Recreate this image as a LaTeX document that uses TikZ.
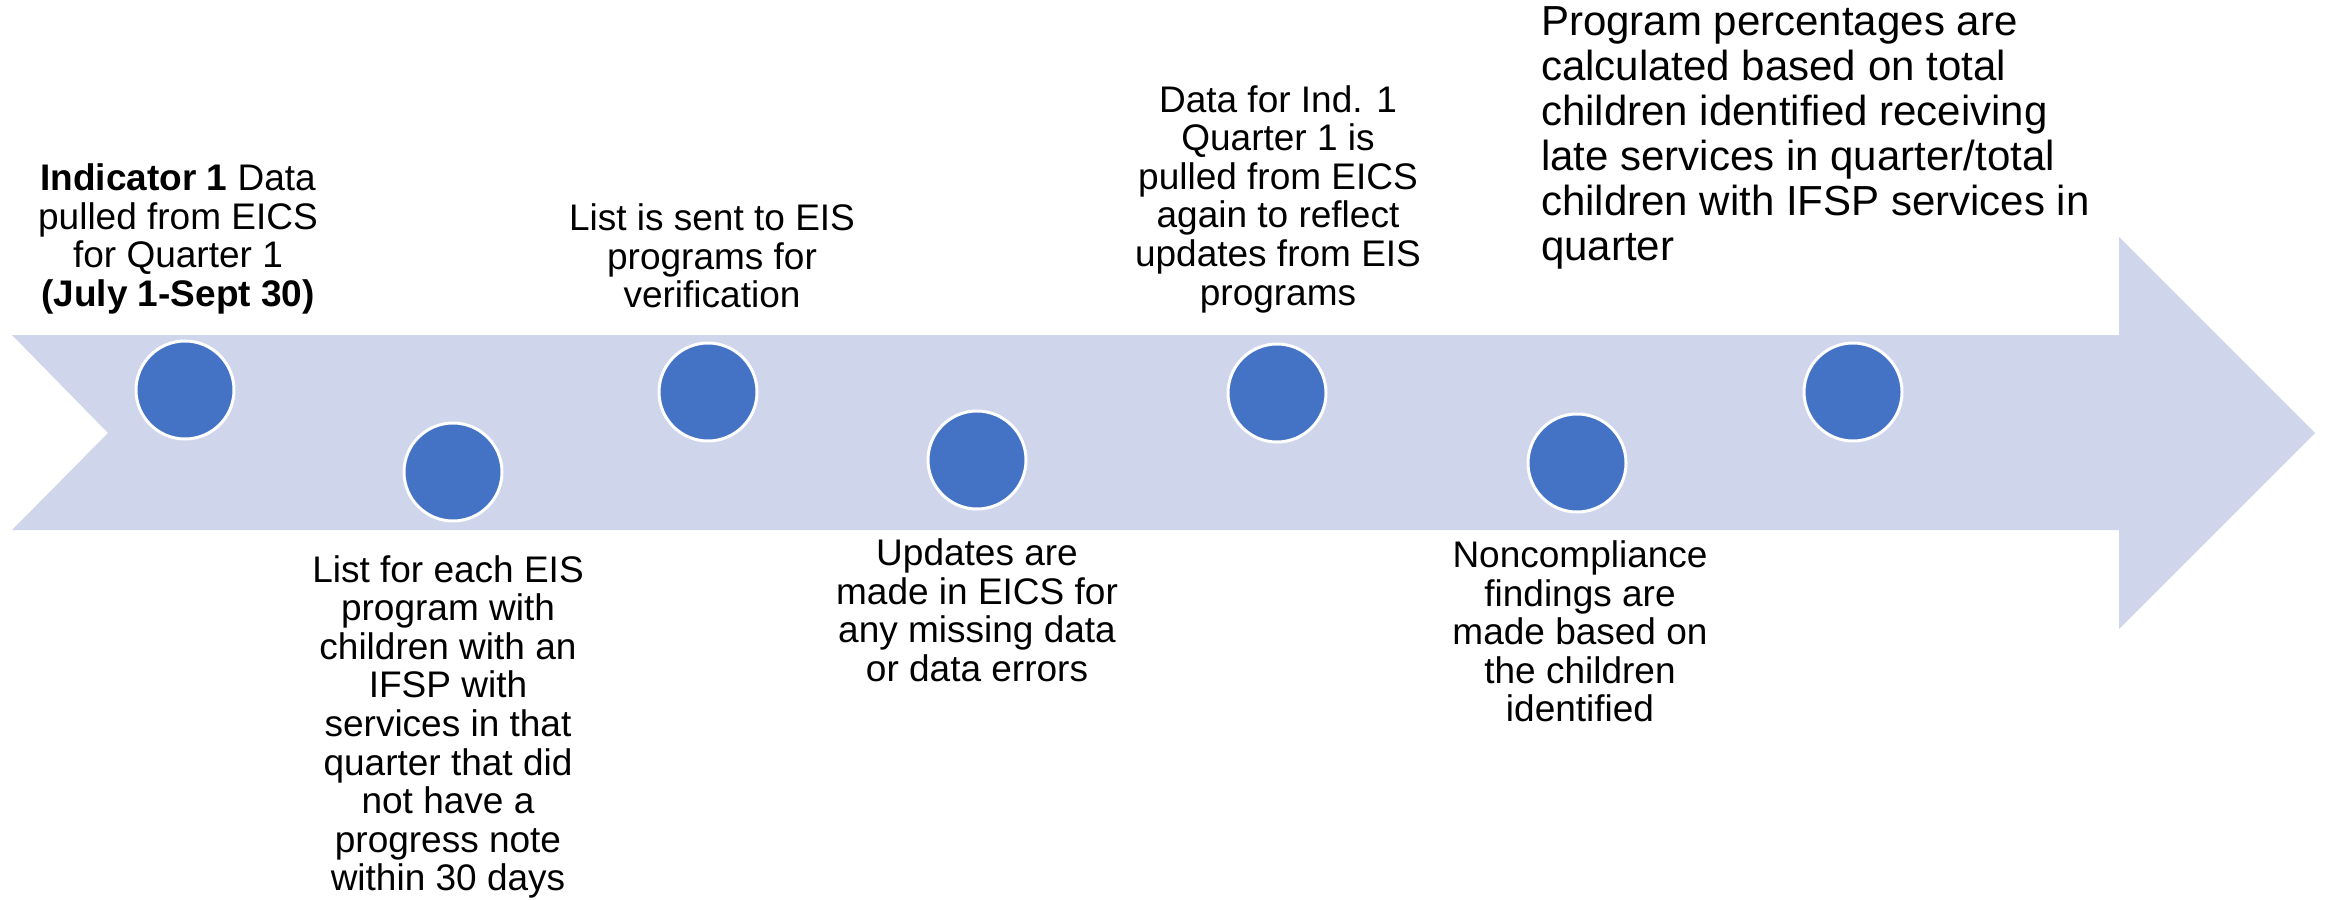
\documentclass[tikz,border=0pt]{standalone}
\usepackage{fontspec}
\setmainfont{Liberation Sans}
\definecolor{arrowfill}{HTML}{CFD5EA}
\definecolor{dotblue}{HTML}{4472C4}
\begin{document}
\begin{tikzpicture}[x=1pt,y=-1pt,
  dot/.style={circle,fill=dotblue,draw=white,line width=3pt,minimum size=98pt,inner sep=0pt},
  lbl/.style={inner sep=0pt,align=center,anchor=north,font=\fontsize{37}{38.6}\selectfont},
  lblwide/.style={inner sep=0pt,align=left,anchor=north west,font=\fontsize{42}{45}\selectfont}]
\useasboundingbox (0,0) rectangle (2325,899);
% timeline arrow
\fill[arrowfill] (12,335) -- (2119,335) -- (2119,237) -- (2315,433) -- (2119,629) -- (2119,530) -- (12,530) -- (108,433) -- cycle;
% dots
\node[dot] (c1) at (185,390) {};
\node[dot] (c2) at (453,472) {};
\node[dot] (c3) at (708,392) {};
\node[dot] (c4) at (977,460) {};
\node[dot] (c5) at (1277,393) {};
\node[dot] (c6) at (1577,463) {};
\node[dot] (c7) at (1853,392) {};
% labels
\node[lbl] (t1) at (178,163.5) {\textbf{Indicator 1} Data\\pulled from EICS\\for Quarter 1\\\textbf{(July 1-Sept 30)}};
\node[lbl] (t2) at (448,555) {List for each EIS\\program with\\children with an\\IFSP with\\services in that\\quarter that did\\not have a\\progress note\\within 30 days};
\node[lbl] (t3) at (712,203.5) {List is sent to EIS\\programs for\\verification};
\node[lbl] (t4) at (977,538.5) {Updates are\\made in EICS for\\any missing data\\or data errors};
\node[lbl] (t5) at (1278,85) {Data for Ind. 1\\Quarter 1 is\\pulled from EICS\\again to reflect\\updates from EIS\\programs};
\node[lbl] (t6) at (1580,540.5) {Noncompliance\\findings are\\made based on\\the children\\identified};
\node[lblwide] (t7) at (1541,6) {Program percentages are\\calculated based on total\\children identified receiving\\late services in quarter/total\\children with IFSP services in\\quarter};
\end{tikzpicture}
\end{document}
